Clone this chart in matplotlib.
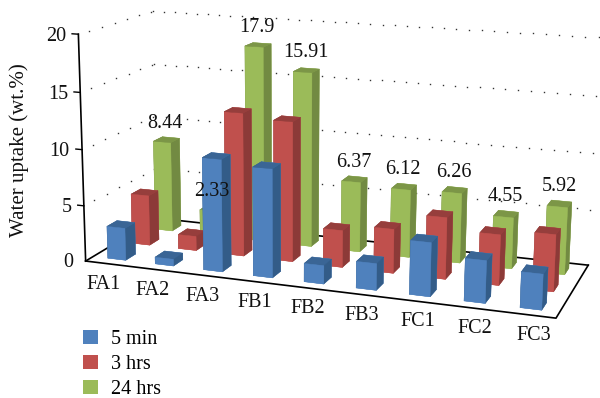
import numpy as np
import matplotlib
matplotlib.use("Agg")
import matplotlib.pyplot as plt
from matplotlib.lines import Line2D
from matplotlib.patches import Patch
from mpl_toolkits.mplot3d import Axes3D  # noqa: F401

plt.rcParams['font.family'] = ['Liberation Serif', 'DejaVu Serif']

categories = ['FA1', 'FA2', 'FA3', 'FB1', 'FB2', 'FB3', 'FC1', 'FC2', 'FC3']
series_names = ['5 min', '3 hrs', '24 hrs']
uptake_5min = [2.9, 0.6, 9.9, 9.5, 1.6, 2.3, 4.6, 3.6, 3.0]
uptake_3hrs = [4.6, 1.3, 12.9, 12.5, 3.3, 3.9, 5.4, 4.4, 4.9]
uptake_24hrs = [8.44, 2.33, 17.9, 15.91, 6.37, 6.12, 6.26, 4.55, 5.92]
z_ticks = [0, 5, 10, 15, 20]

W, H = 600, 398
BAR_W, BAR_D = 0.38, 0.40
X0, Y0 = 0.31, 0.30
FONT = 14.5

# Face shades for each series; bar3d order is -Z +Z -Y +Y -X +X
palette = [
    dict(front='#4F81BD', side='#335C88', top='#3A6595'),
    dict(front='#C0504D', side='#8C3A38', top='#963E3C'),
    dict(front='#9BBB59', side='#728A42', top='#7C9647'),
]

# Camera calibration: (category, depth, value) -> canvas pixel
cam_world = np.array([
    (0, 0, 0), (9, 0, 0), (9, 3, 0), (0, 3, 0),
    (0, 0, 20), (0, 3, 20), (9, 3, 20), (0, 0, 10), (9, 3, 10),
], dtype=float)
cam_pixel = np.array([
    (88, 261), (556, 318), (589, 265), (155, 218),
    (77, 34), (155, 11), (599, 37), (81, 150), (593, 154),
], dtype=float)


def solve_camera(world, pixel):
    rows, rhs = [], []
    for (x, y, z), (u, v) in zip(world, pixel):
        rows.append([x, y, z, 1, 0, 0, 0, 0, -u * x, -u * y, -u * z])
        rhs.append(u)
        rows.append([0, 0, 0, 0, x, y, z, 1, -v * x, -v * y, -v * z])
        rhs.append(v)
    p = np.linalg.lstsq(np.array(rows), np.array(rhs), rcond=None)[0]
    return np.append(p, 1.0).reshape(3, 4)


CAMERA = solve_camera(cam_world, cam_pixel)


def to_figure(xs, ys, zs):
    """Project world coordinates to figure fractions."""
    pts = np.column_stack([xs, ys, zs, np.ones(len(xs))])
    p = pts @ CAMERA.T
    return p[:, 0] / p[:, 2] / W, 1 - p[:, 1] / p[:, 2] / H


fig = plt.figure(figsize=(W / 100, H / 100), dpi=100)
# A square axes larger than the canvas keeps the 3D box from being letterboxed
ax = fig.add_axes([0, (H - W) / 2 / H, 1, W / H], projection='3d')
ax.set_axis_off()
ax.patch.set_visible(False)
ax.computed_zorder = False


def fixed_projection():
    flip = np.array([[1, 0, 0], [0, -1, H], [0, 0, 1]], dtype=float)
    q = ax.transData.inverted().get_matrix() @ flip @ CAMERA
    depth = q[2] - np.array([0, 0, 0, 1.0])
    return np.vstack([q[0], q[1], depth, q[2]])


ax.get_proj = fixed_projection

n_cat = len(categories)
n_ser = len(series_names)

# Wall gridlines and the far floor edges sit on a layer beneath the 3D axes
side_steps = np.arange(0.4, n_ser, 0.5)
back_steps = np.arange(0.0, n_cat, 0.243)
for z in z_ticks[1:]:
    fx, fy = to_figure(np.zeros_like(side_steps), side_steps, np.full_like(side_steps, z))
    fig.add_artist(Line2D(fx, fy, transform=fig.transFigure, linestyle='none', marker='s',
                          ms=1.0, mew=0, color='#333333', zorder=-1))
    fx, fy = to_figure(back_steps, np.full_like(back_steps, n_ser), np.full_like(back_steps, z))
    fig.add_artist(Line2D(fx, fy, transform=fig.transFigure, linestyle='none', marker='s',
                          ms=1.0, mew=0, color='#333333', zorder=-1))

fx, fy = to_figure([0, 0, n_cat], [0, n_ser, n_ser], [0, 0, 0])
fig.add_artist(Line2D(fx, fy, transform=fig.transFigure, color='black', lw=1.2, zorder=-1))

# Floor outline and value axis
ax.plot([0, n_cat, n_cat], [0, 0, n_ser], [0, 0, 0],
        color='black', lw=1.2, clip_on=False, zorder=3)
ax.plot([0, 0], [0, 0], [0, 20], color='black', lw=1.2, clip_on=False, zorder=3)

for z in z_ticks:
    ax.plot([-0.13, 0], [0, 0], [z, z], color='black', lw=1.0, clip_on=False, zorder=3)
    ax.text(-0.26, 0, z - 0.28, str(z), ha='right', va='center', fontsize=FONT, zorder=30,
            color='#111111')

# Bars are painted back row first, left to right within a row
all_series = [uptake_5min, uptake_3hrs, uptake_24hrs]
for s in reversed(range(n_ser)):
    pal = palette[s]
    face_colors = [pal['front'], pal['top'], pal['front'], pal['front'], pal['side'], pal['side']]
    for i, value in enumerate(all_series[s]):
        ax.bar3d(i + X0, s + Y0, 0, BAR_W, BAR_D, value, color=face_colors, shade=False,
                 edgecolor=face_colors, linewidth=0.3, zorder=10 + (n_ser - s) * 2 + i * 0.01)

# Value labels over the 24 hrs row
for i, value in enumerate(uptake_24hrs):
    ax.text(i + X0 + BAR_W / 2 - 0.02, 2 + Y0 + BAR_D / 2, value + 1.55, f'{value:g}', ha='center',
            va='center', fontsize=FONT, zorder=40, color='#111111')

# Category labels in front of the floor
for i, name in enumerate(categories):
    ax.text(i + 0.58 + i * 0.016, -0.4, -1.2 + i * 0.03, name, ha='center', va='center',
            fontsize=FONT, zorder=30, color='#111111')

fig.text(19 / W, 1 - 150 / H, 'Water uptake (wt.%)', rotation=90, ha='center', va='center',
         fontsize=15, color='#111111')

handles = [Patch(facecolor=p['front'], edgecolor='none', label=n)
           for p, n in zip(palette, series_names)]
fig.legend(handles=handles, loc='lower left', bbox_to_anchor=(83 / W, 1 - 399 / H),
           frameon=False, fontsize=FONT, handlelength=0.75, handleheight=0.75,
           handletextpad=0.65, labelspacing=0.28, borderpad=0, borderaxespad=0)

fig.savefig('out.png', dpi=100)
